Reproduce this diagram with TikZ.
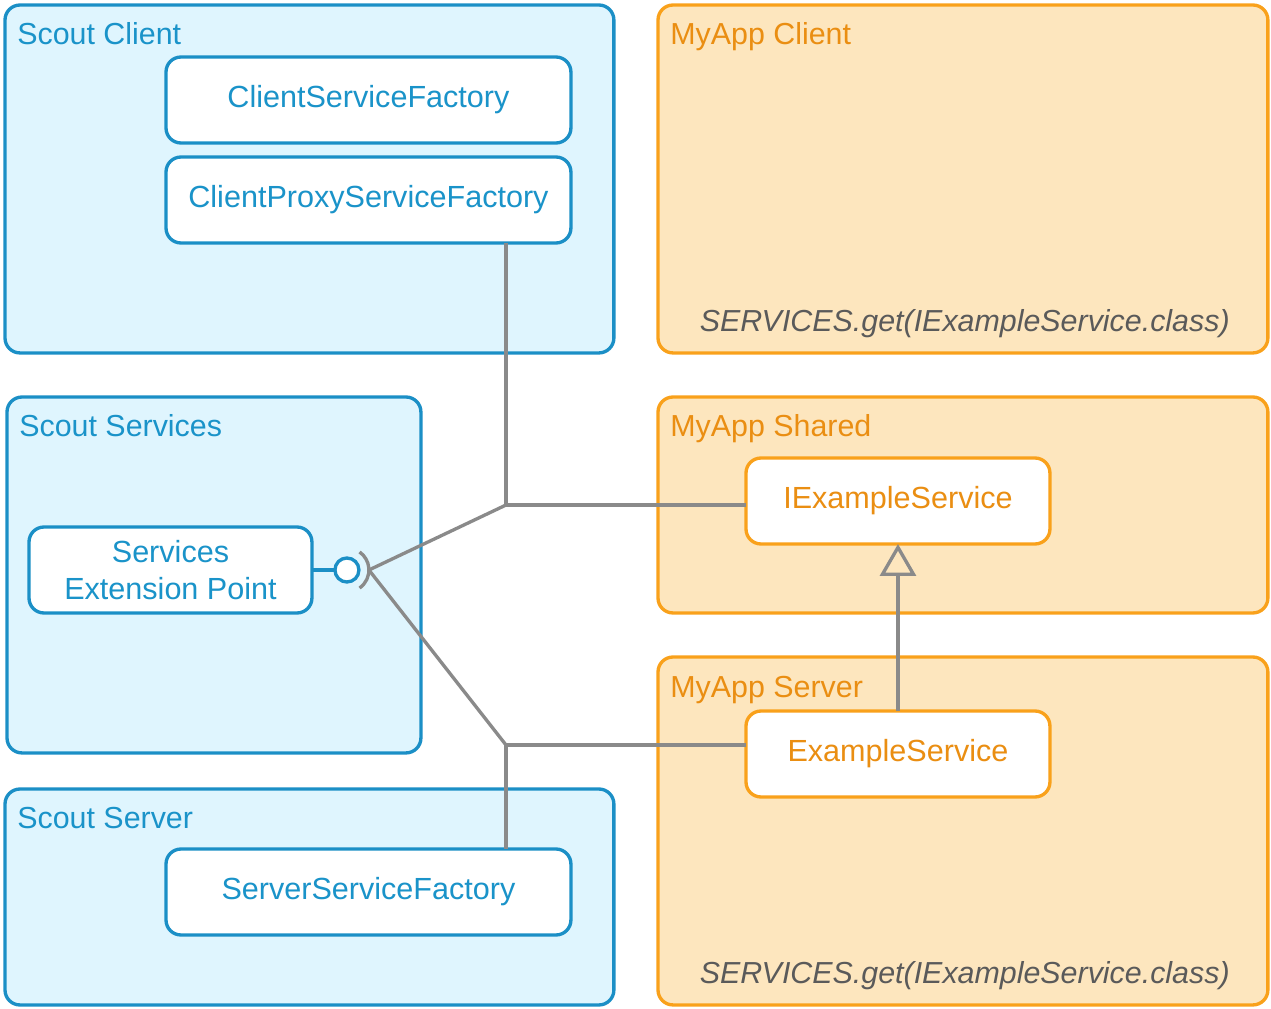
\documentclass[tikz,border=0pt]{standalone}
\usepackage{fontspec}
\setmainfont{Liberation Sans}
\usetikzlibrary{arrows.meta,calc}
\definecolor{bstroke}{HTML}{1B8FC6}
\definecolor{bfill}{HTML}{DFF5FE}
\definecolor{btext}{HTML}{1A93C9}
\definecolor{ostroke}{HTML}{F9A11B}
\definecolor{ofill}{HTML}{FDE6BE}
\definecolor{otext}{HTML}{EA8E12}
\definecolor{conn}{HTML}{8A8A8A}
\definecolor{codegray}{HTML}{5A5A5A}
\tikzset{
  grp/.style={draw, line width=1.9pt, rounded corners=0.3cm, inner sep=0pt, outer sep=0pt, anchor=north west},
  bgrp/.style={grp, draw=bstroke, fill=bfill},
  ogrp/.style={grp, draw=ostroke, fill=ofill},
  comp/.style={draw, line width=1.9pt, rounded corners=0.3cm, fill=white, inner sep=0pt, outer sep=0pt, anchor=north west, minimum height=1.72cm, align=center, font=\fontsize{17.4}{21.5}\selectfont},
  bcomp/.style={comp, draw=bstroke, text=btext},
  ocomp/.style={comp, draw=ostroke, text=otext},
  glabel/.style={anchor=base west, inner sep=0pt, font=\fontsize{17.3}{21}\selectfont},
  wire/.style={draw=conn, line width=1.9pt},
  calltext/.style={anchor=base east, inner sep=0pt, text=codegray, font=\fontsize{17.3}{21}\selectfont\itshape}
}
\begin{document}
\begin{tikzpicture}[x=0.02cm, y=-0.02cm]
\useasboundingbox (0,0) rectangle (1271,1008);
% groups
\node[bgrp, minimum width=12.18cm, minimum height=6.96cm] (scl) at (5,5) {};
\node[ogrp, minimum width=12.2cm, minimum height=6.96cm] (mcl) at (658,5) {};
\node[bgrp, minimum width=8.28cm, minimum height=7.12cm] (ssv) at (7,397) {};
\node[ogrp, minimum width=12.2cm, minimum height=4.32cm] (msh) at (658,397) {};
\node[ogrp, minimum width=12.2cm, minimum height=6.96cm] (msv) at (658,657) {};
\node[bgrp, minimum width=12.18cm, minimum height=4.32cm] (sse) at (5,789) {};
% group labels
\node[glabel, text=btext] (lscl) at (17,44) {Scout Client};
\node[glabel, text=otext] (lmcl) at (670,44) {MyApp Client};
\node[glabel, text=btext] (lssv) at (19,436) {Scout Services};
\node[glabel, text=otext] (lmsh) at (670,436) {MyApp Shared};
\node[glabel, text=otext] (lmsv) at (670,697) {MyApp Server};
\node[glabel, text=btext] (lsse) at (17,828) {Scout Server};
\node[calltext] (c1) at (1230,331) {SERVICES.get(IExampleService.class)};
\node[calltext] (c2) at (1230,983) {SERVICES.get(IExampleService.class)};
% components
\node[bcomp, minimum width=8.1cm] (csf) at (166,57) {ClientServiceFactory};
\node[bcomp, minimum width=8.1cm] (cpsf) at (166,157) {ClientProxyServiceFactory};
\node[bcomp, minimum width=5.66cm] (sep) at (29,527) {Services\\Extension Point};
\node[ocomp, minimum width=6.08cm] (ies) at (746,458) {IExampleService};
\node[ocomp, minimum width=6.08cm] (es) at (746,711) {ExampleService};
\node[bcomp, minimum width=8.1cm] (ssf) at (166,849) {ServerServiceFactory};
% provided interface
\node[circle, draw=bstroke, fill=white, line width=1.9pt, minimum size=0.48cm, inner sep=0pt, outer sep=0pt] (ball) at ($(sep.east)+(35,0)$) {};
\draw[draw=bstroke, line width=1.9pt] (sep.east) -- (ball.west);
\coordinate (sock) at ($(ball.center)+(22,0)$);
\draw[wire] (ball.center) ++(-55:0.44cm) arc[start angle=-55, end angle=55, radius=0.44cm];
% junctions
\coordinate (jt) at (506,505);
\coordinate (jb) at (506,745);
\draw[wire] (jt |- cpsf.south) -- (jt) -- (ies.west |- jt);
\draw[wire] (jt) -- (sock);
\draw[wire] (es.west |- jb) -- (jb) -- (jb |- ssf.north);
\draw[wire] (jb) -- (sock);
% realization
\draw[wire, -{Triangle[open, width=0.72cm, length=0.64cm, line width=1.9pt]}] (es.north) -- (ies.south);
\end{tikzpicture}
\end{document}
